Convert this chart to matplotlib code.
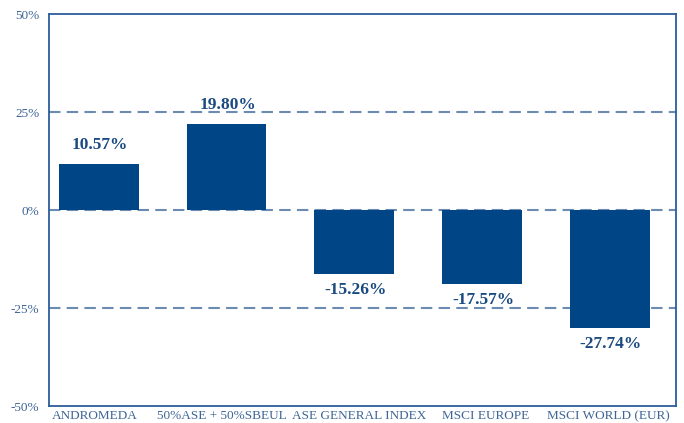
import matplotlib
matplotlib.use("Agg")
import matplotlib.pyplot as plt

categories = ["ANDROMEDA", "50%ASE + 50%SBEUL", "ASE GENERAL INDEX", "MSCI EUROPE", "MSCI WORLD (EUR)"]
bar_heights = [11.7, 21.9, -16.25, -18.8, -30.0]
value_labels = ["10.57%", "19.80%", "-15.26%", "-17.57%", "-27.74%"]
y_ticks = [-50, -25, 0, 25, 50]
y_tick_labels = ["-50%", "-25%", "0%", "25%", "50%"]

bar_color = "#004586"
text_color = "#1a4a80"
tick_color = "#3f6596"
frame_color = "#2a5d9a"
grid_color = "#6b8bb3"

plt.rcParams['font.family'] = ['Liberation Serif', 'DejaVu Serif']

fig = plt.figure(figsize=(6.84, 4.23), dpi=100)
ax = fig.add_axes([49/684, 1-406/423, (676-49)/684, (406-14)/423])

x = list(range(len(categories)))
ax.bar(x, bar_heights, width=0.626, color=bar_color, zorder=3)

for yv in [25, 0, -25]:
    ax.axhline(yv, color=grid_color, lw=1.5, ls=(0, (5.5, 3)), zorder=2)

for xi, h, lab in zip(x, bar_heights, value_labels):
    if h >= 0:
        ax.annotate(lab, (xi, h), xytext=(1, 8), textcoords="offset points",
                    ha="center", va="bottom", fontsize=12.5, fontweight="bold", color=text_color)
    else:
        ax.annotate(lab, (xi, h), xytext=(1, -6), textcoords="offset points",
                    ha="center", va="top", fontsize=12.5, fontweight="bold", color=text_color)

# category label placement nudges (layout only)
label_shift = [-0.03, -0.04, 0.04, 0.03, -0.01]

ax.set_xlim(-0.39, 4.52)
ax.set_ylim(-50, 50)
ax.set_yticks(y_ticks)
ax.set_yticklabels(y_tick_labels)
ax.set_xticks([xi + s for xi, s in zip(x, label_shift)])
ax.set_xticklabels(categories)
ax.tick_params(axis='both', length=0, colors=tick_color, labelsize=9.5)
ax.tick_params(axis='y', pad=7)
ax.tick_params(axis='x', pad=3)
for sp in ax.spines.values():
    sp.set_color(frame_color)
    sp.set_linewidth(1.3)

fig.savefig("out.png", dpi=100)
